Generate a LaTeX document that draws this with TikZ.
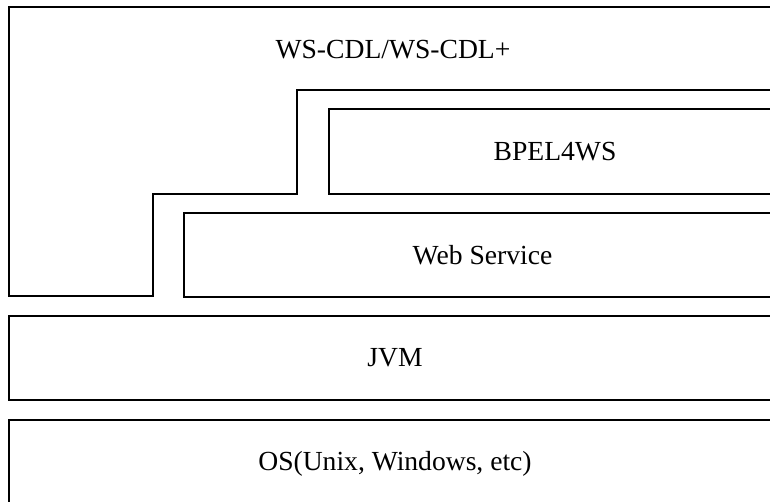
\documentclass[tikz,border=0pt]{standalone}
\usepackage{fontspec}
\setmainfont{Liberation Serif}

\begin{document}
\begin{tikzpicture}[x=0.75pt, y=-0.75pt, line width=1.5pt,
    layer/.style={draw, rectangle, inner sep=0pt, outer sep=0pt, font=\fontsize{20.7}{24}\selectfont},
    lbl/.style={inner sep=0pt, font=\fontsize{20.7}{24}\selectfont}]
                    \useasboundingbox (0,0) rectangle (770,502);
                    \clip (0,0) rectangle (770,502);

                    % Choreography layer (stepped outline)
                    \draw (781,7) -- (9,7) -- (9,296) -- (153,296) -- (153,194)
                          -- (297,194) -- (297,90) -- (781,90);
                    \node[lbl] (cdl) at (393,50) {WS-CDL/WS-CDL+};

                    % Orchestration
                    \node[layer, minimum width=339pt, minimum height=63.75pt] (bpel) at (555,151.5) {BPEL4WS};

                    % Services
                    \node[layer, minimum width=447.75pt, minimum height=63pt] (ws) at (482.5,255) {Web Service};

                    % Runtime
                    \node[layer, minimum width=579pt, minimum height=63pt] (jvm) at (395,358) {JVM};

                    % Operating system
                    \node[layer, minimum width=579pt, minimum height=66pt] (os) at (395,464) {OS(Unix, Windows, etc)};
                \end{tikzpicture}
\end{document}
